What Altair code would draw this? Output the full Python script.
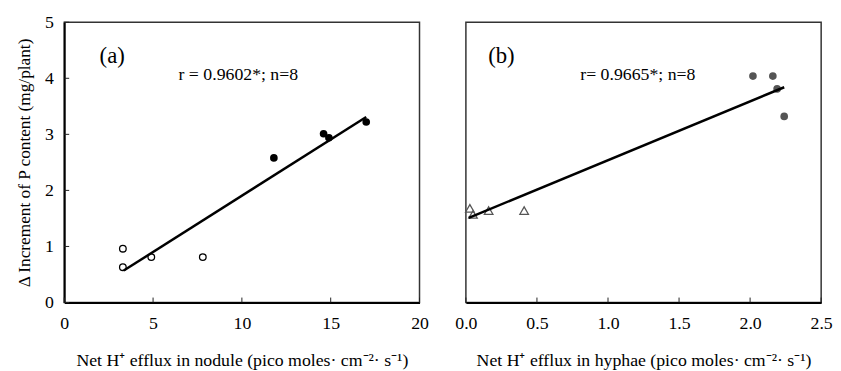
import altair as alt
import pandas as pd

# ---- Panel (a): nodule ----
a_open_x = [3.3, 3.3, 4.9, 7.8]
a_open_y = [0.96, 0.63, 0.81, 0.81]
a_fill_x = [11.8, 14.6, 14.9, 17.0]
a_fill_y = [2.58, 3.01, 2.94, 3.22]
a_fit_x = [3.35, 17.0]
a_fit_y = [0.57, 3.31]

# ---- Panel (b): hyphae ----
b_tri_x = [0.028, 0.05, 0.16, 0.41]
b_tri_y = [1.68, 1.57, 1.64, 1.64]
b_fill_x = [2.02, 2.16, 2.19, 2.24]
b_fill_y = [4.04, 4.04, 3.81, 3.32]
b_fit_x = [0.02, 2.24]
b_fit_y = [1.51, 3.84]

a_xticks = [0, 5, 10, 15, 20]
b_xticks = [0, 0.5, 1, 1.5, 2, 2.5]
yticks = [0, 1, 2, 3, 4, 5]

a_label = "(a)"
a_label_pos = (2.7, 4.4)
a_stat = "r = 0.9602*; n=8"
a_stat_pos = (9.8, 4.05)
b_label = "(b)"
b_label_pos = (0.25, 4.4)
b_stat = "r= 0.9665*; n=8"
b_stat_pos = (1.21, 4.05)

FONT = "Liberation Serif"
W, H = 360, 284


def panel(open_x, open_y, open_shape, open_color, open_size, fill_x, fill_y, fill_color,
          fit_x, fit_y, xdom, xticks, xtitle, show_y, lab, lab_pos, stat, stat_pos):
    xs = alt.Scale(domain=xdom, nice=False, zero=False)
    ys = alt.Scale(domain=[0, 5], nice=False)
    xaxis = alt.Axis(values=xticks, ticks=False, labelPadding=12, title=xtitle,
                     titlePadding=20, titleFontWeight="normal", grid=False,
                     domainColor="black", domainWidth=2, labelFlush=False,
                     labelFont=FONT, titleFont=FONT, labelFontSize=18, titleFontSize=18,
                     labelColor="black", titleColor="black")
    if show_y:
        yaxis = alt.Axis(values=yticks, ticks=False, labelPadding=11, format="d",
                         title="Δ Increment of P content  (mg/plant)",
                         titlePadding=11, titleFontWeight="normal", grid=False,
                         domainColor="black", domainWidth=2,
                         labelFont=FONT, titleFont=FONT, labelFontSize=18, titleFontSize=17.5,
                         labelColor="black", titleColor="black")
    else:
        yaxis = None

    d_open = pd.DataFrame({"x": open_x, "y": open_y})
    d_fill = pd.DataFrame({"x": fill_x, "y": fill_y})
    d_fit = pd.DataFrame({"x": fit_x, "y": fit_y})

    base_open = alt.Chart(d_open).mark_point(
        shape=open_shape, filled=False, color=open_color, size=open_size, strokeWidth=1.3, opacity=1
    ).encode(x=alt.X("x:Q", scale=xs, axis=xaxis), y=alt.Y("y:Q", scale=ys, axis=yaxis))
    fill = alt.Chart(d_fill).mark_circle(color=fill_color, size=60, opacity=1).encode(
        x=alt.X("x:Q", scale=xs), y=alt.Y("y:Q", scale=ys))
    fit = alt.Chart(d_fit).mark_line(color="black", strokeWidth=2.5).encode(
        x=alt.X("x:Q", scale=xs), y=alt.Y("y:Q", scale=ys))

    xt = alt.Chart(pd.DataFrame({"v": xticks})).mark_rule(color="#222", strokeWidth=1).encode(
        x=alt.X("v:Q", scale=xs), y=alt.value(H), y2=alt.value(H - 5))
    layers = [base_open, fill, fit, xt]
    if show_y:
        yt = alt.Chart(pd.DataFrame({"v": yticks})).mark_rule(color="#222", strokeWidth=1).encode(
            y=alt.Y("v:Q", scale=ys), x=alt.value(0), x2=alt.value(5))
        layers.append(yt)

    d_lab = pd.DataFrame({"x": [lab_pos[0]], "y": [lab_pos[1]], "t": [lab]})
    d_stat = pd.DataFrame({"x": [stat_pos[0]], "y": [stat_pos[1]], "t": [stat]})
    t1 = alt.Chart(d_lab).mark_text(font=FONT, fontSize=23, color="black").encode(
        x=alt.X("x:Q", scale=xs), y=alt.Y("y:Q", scale=ys), text="t:N")
    t2 = alt.Chart(d_stat).mark_text(font=FONT, fontSize=18, color="black").encode(
        x=alt.X("x:Q", scale=xs), y=alt.Y("y:Q", scale=ys), text="t:N")
    layers += [t1, t2]
    return alt.layer(*layers).properties(width=W, height=H)


pa = panel(a_open_x, a_open_y, "circle", "black", 45, a_fill_x, a_fill_y, "black",
           a_fit_x, a_fit_y, [0, 20], a_xticks,
           "Net H⁺ efflux in nodule  (pico moles· cm⁻²· s⁻¹)", True,
           a_label, a_label_pos, a_stat, a_stat_pos)
pb = panel(b_tri_x, b_tri_y, "triangle-up", "#555555", 75, b_fill_x, b_fill_y, "#555555",
           b_fit_x, b_fit_y, [0, 2.5], b_xticks,
           "Net H⁺ efflux in hyphae  (pico moles· cm⁻²· s⁻¹)", False,
           b_label, b_label_pos, b_stat, b_stat_pos)

chart = alt.hconcat(pa, pb, spacing=47, bounds="flush").properties(
    padding={"left": 7, "top": 2, "right": 0, "bottom": 0},
    background="white",
).configure_view(stroke="#333333", strokeWidth=1.5)

chart.save("out.html", embed_options={"renderer": "svg", "actions": False})
